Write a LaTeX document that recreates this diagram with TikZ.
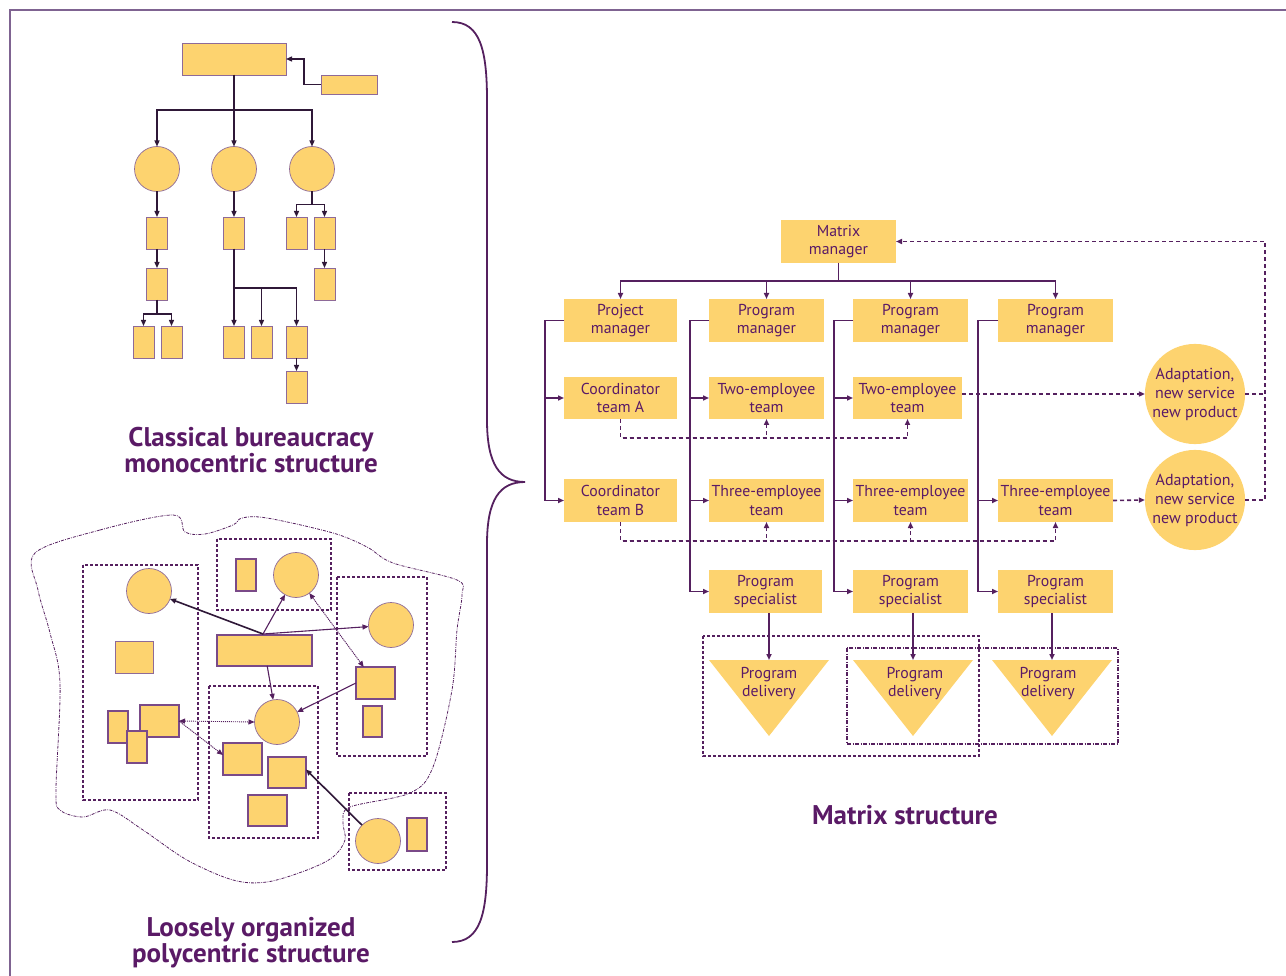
\documentclass[tikz,border=0pt]{standalone}
\usepackage{fontspec}
\setmainfont{PT Sans}
\usetikzlibrary{arrows.meta,calc}
\definecolor{yel}{HTML}{FDD36F}
\definecolor{txt}{HTML}{5A1A66}
\definecolor{mln}{HTML}{55205F}
\definecolor{dk}{HTML}{2F1838}
\definecolor{frm}{HTML}{7F6391}
\definecolor{outl}{HTML}{8E6A98}
\definecolor{pout}{HTML}{7A4A88}
\tikzset{
  bbox/.style={draw=outl, line width=0.7pt, fill=yel, inner sep=0pt, outer sep=0pt},
  bcirc/.style={bbox, circle, minimum size=45pt},
  tip/.style={-{Triangle[length=6pt,width=5pt]}},
  barrow/.style={draw=dk, line width=1.3pt, tip},
  pbox/.style={draw=pout, line width=1.3pt, fill=yel, inner sep=0pt, outer sep=0pt},
  pthin/.style={draw=outl, line width=0.7pt, fill=yel, inner sep=0pt, outer sep=0pt},
  pcirc/.style={pthin, circle, minimum size=45pt},
  pgroup/.style={draw=mln, line width=1.2pt, dash pattern=on 3pt off 2pt},
  pthick/.style={draw=dk, line width=1.6pt, -{Triangle[length=6pt,width=5pt]}},
  pmed/.style={draw=mln, line width=1.1pt, -{Triangle[length=6pt,width=5pt]}},
  pdot/.style={draw=mln, line width=0.9pt, dash pattern=on 1.2pt off 0.8pt},
  mbox/.style={fill=yel, inner sep=0pt, outer sep=0pt, align=center, text=txt,
     font=\fontsize{15.8}{18.5}\selectfont, minimum height=43pt},
  mcirc/.style={fill=yel, circle, inner sep=0pt, outer sep=0pt, minimum size=98pt, align=center, text=txt,
     font=\fontsize{16}{19}\selectfont},
  mline/.style={draw=mln, line width=1.6pt},
  marrow/.style={mline, -{Triangle[length=6pt,width=5pt]}},
  mdash/.style={draw=mln, line width=1.6pt, dash pattern=on 4pt off 3pt},
  mdasharrow/.style={mdash, -{Triangle[length=6pt,width=5pt]}},
  title/.style={align=center, text=txt, font=\bfseries\fontsize{27}{24}\selectfont},
  dtext/.style={align=center, text=txt, font=\fontsize{15.8}{18.5}\selectfont, inner sep=0pt}
}
\begin{document}
\begin{tikzpicture}[x=1pt,y=-1pt]
\useasboundingbox (0,0) rectangle (1286,976);
% frame
\draw[frm, line width=2pt] (10,976) -- (10,10) -- (1286,10);

% ===== Classical bureaucracy =====
\node[bbox, minimum width=104pt, minimum height=32pt] (top) at (234,59) {};
\node[bbox, minimum width=56pt, minimum height=19pt] (side) at (349,84.5) {};
\node[bcirc] (c1) at (157,169) {};
\node[bcirc] (c2) at (234,169) {};
\node[bcirc] (c3) at (312,169) {};
\foreach \n/\x/\y in {r11/157/233, r12/157/284, r13a/143.5/342, r13b/171.5/342,
  r21/234/233, r22a/234/342, r22b/261.5/342, r22c/296.5/342, r23/296.5/387,
  r31a/296.5/233, r31b/324.5/233, r32/324.5/284}
  \node[bbox, minimum width=21pt, minimum height=32pt] (\n) at (\x,\y) {};
\draw[barrow] (side.west) -- ++(-17,0) |- (top.east);
\draw[barrow] (top.south) -- (c2.north);
\draw[barrow] (top.south) -- ++(0,35) -| (c1.north);
\draw[barrow] (top.south) -- ++(0,35) -| (c3.north);
\draw[barrow] (c1.south) -- (r11.north);
\draw[barrow] (r11.south) -- (r12.north);
\draw[barrow] (r12.south) -- ++(0,14) -| (r13a.north);
\draw[barrow] (r12.south) -- ++(0,14) -| (r13b.north);
\draw[barrow] (c2.south) -- (r21.north);
\draw[barrow] (r21.south) -- (r22a.north);
\draw[barrow] (r21.south) -- ++(0,39) -| (r22b.north);
\draw[barrow] (r21.south) -- ++(0,39) -| (r22c.north);
\draw[barrow] (r22c.south) -- (r23.north);
\draw[barrow] (c3.south) -- ++(0,13) -| (r31a.north);
\draw[barrow] (c3.south) -- ++(0,13) -| (r31b.north);
\draw[barrow] (r31b.south) -- (r32.north);
\node[title] (t1) at (251,450) {Classical bureaucracy\\monocentric structure};

% ===== Polycentric =====
\draw[mln, line width=0.8pt, dash pattern=on 3pt off 1.2pt on 0.8pt off 1.2pt]
  plot[smooth cycle, tension=0.55] coordinates {(35,553) (100,530) (173,515) (185,532) (205,534) (233,525)
  (242,518) (267,518) (333,533) (367,547) (393,563) (457,580) (462,595) (457,630) (452,690)
  (433,767) (410,793) (350,807) (343,822) (345,840) (333,857) (307,870) (267,882) (233,880)
  (187,860) (143,830) (110,810) (83,817) (60,810) (56,790) (60,683) (50,633) (38,590)};
\draw[pgroup] (83,565) rectangle (198,800);
\draw[pgroup] (217,539) rectangle (331,610);
\draw[pgroup] (337,577) rectangle (427,756);
\draw[pgroup] (209,686) rectangle (318,838);
\draw[pgroup] (349,793) rectangle (446,870);
\node[pcirc] (pc1) at (149,591) {};
\node[pthin, minimum width=38pt, minimum height=32pt] (pA) at (134,657) {};
\node[pbox, minimum width=20pt, minimum height=32pt] (pS1) at (118,727) {};
\node[pbox, minimum width=39pt, minimum height=32pt] (pS2) at (159.5,721) {};
\node[pbox, minimum width=20pt, minimum height=32pt] (pS3) at (137,747) {};
\node[pbox, minimum width=20pt, minimum height=32pt] (pB1) at (246,575) {};
\node[pcirc] (pc2) at (296,575) {};
\node[pbox, minimum width=95pt, minimum height=31pt] (pmid) at (264.5,650.5) {};
\node[pcirc] (pc3) at (391,625) {};
\node[pbox, minimum width=39pt, minimum height=32pt] (pC1) at (375.5,683) {};
\node[pbox, minimum width=19pt, minimum height=31pt] (pC2) at (372.5,721.5) {};
\node[pcirc] (pc4) at (277,722) {};
\node[pbox, minimum width=39pt, minimum height=32pt] (pD1) at (242.5,759) {};
\node[pbox, minimum width=38pt, minimum height=31pt] (pD2) at (287,772.5) {};
\node[pbox, minimum width=39pt, minimum height=31pt] (pD3) at (267.5,810.5) {};
\node[pcirc] (pc5) at (378,841) {};
\node[pbox, minimum width=20pt, minimum height=33pt] (pE1) at (417,834.5) {};
\coordinate (hub) at (263,634);
\draw[pthick] (hub) -- (pc1);
\draw[pmed] (hub) -- (pc2);
\draw[pmed] (hub) -- (pc3);
\draw[pmed] (pmid) -- (pc4);
\draw[pdot, {Triangle[length=6pt,width=5pt]}-{Triangle[length=6pt,width=5pt]}] (pc2) -- (pC1);
\draw[pmed] (pC1.west) -- (pc4);
\draw[pdot, {Triangle[length=6pt,width=5pt]}-{Triangle[length=6pt,width=5pt]}] (pS2.east) -- (pc4.west);
\draw[pdot, -{Triangle[length=6pt,width=5pt]}] (pS2.east) -- ($(pD1.west)+(0,-4)$);
\draw[pthick] (pc5) -- ($(pD2.east)+(0,-3)$);
\node[title] (t2) at (251,943) {Loosely organized\\polycentric structure};

% ===== Brace =====
\draw[mln, line width=1.8pt] (452,22) .. controls (480,22) and (487,50) .. (487,100) -- (487,420)
  .. controls (487,465) and (500,482) .. (525,482)
  .. controls (500,482) and (487,499) .. (487,544) -- (487,864)
  .. controls (487,914) and (480,942) .. (452,942);

% ===== Matrix =====
\draw[pgroup, line width=1.3pt] (703,636) rectangle (979,756);
\draw[mln, line width=1.3pt, dash pattern=on 4pt off 1.5pt on 1pt off 1.5pt] (847,648) rectangle (1118,744);
\node[mbox, minimum width=115pt] (MM) at (838.5,241.5) {Matrix\\manager};
\node[mbox, minimum width=113pt] (PM) at (620.5,320.5) {Project\\manager};
\node[mbox, minimum width=115pt] (PG1) at (766.5,320.5) {Program\\manager};
\node[mbox, minimum width=115pt] (PG2) at (910.5,320.5) {Program\\manager};
\node[mbox, minimum width=115pt] (PG3) at (1055.5,320.5) {Program\\manager};
\node[mbox, minimum width=113pt, minimum height=42pt] (CTA) at (620.5,398) {Coordinator\\team A};
\node[mbox, minimum width=115pt, minimum height=42pt] (TE1) at (766.5,398) {Two-employee\\team};
\node[mbox, minimum width=109pt, minimum height=42pt] (TE2) at (907.5,398) {Two-employee\\team};
\node[mbox, minimum width=113pt] (CTB) at (620.5,500.5) {Coordinator\\team B};
\node[mbox, minimum width=115pt] (TH1) at (766.5,500.5) {Three-employee\\team};
\node[mbox, minimum width=115pt] (TH2) at (910.5,500.5) {Three-employee\\team};
\node[mbox, minimum width=115pt] (TH3) at (1055.5,500.5) {Three-employee\\team};
\node[mbox, minimum width=113pt] (SP1) at (765.5,591.5) {Program\\specialist};
\node[mbox, minimum width=115pt] (SP2) at (910.5,591.5) {Program\\specialist};
\node[mbox, minimum width=115pt] (SP3) at (1055.5,591.5) {Program\\specialist};
\node[mcirc] (AD1) at (1195,394) {Adaptation,\\new service\\new product};
\node[mcirc] (AD2) at (1195,500) {Adaptation,\\new service\\new product};
% triangles
\fill[yel] (709,660) -- (829,660) -- (769,736) -- cycle;
\fill[yel] (853,660) -- (973,660) -- (913,736) -- cycle;
\fill[yel] (992,660) -- (1112,660) -- (1052,736) -- cycle;
\coordinate (T1) at (769,660);
\coordinate (T2) at (913,660);
\coordinate (T3) at (1052,660);
\node[dtext] (D1) at (769,683.5) {Program\\delivery};
\node[dtext] (D2) at (915,683.5) {Program\\delivery};
\node[dtext] (D3) at (1048,683.5) {Program\\delivery};
% solid connectors
\draw[marrow] (MM.south) -- ++(0,18) -| (PM.north);
\draw[marrow] (MM.south) -- ++(0,18) -| (PG1.north);
\draw[marrow] (MM.south) -- ++(0,18) -| (PG2.north);
\draw[marrow] (MM.south) -- ++(0,18) -| (PG3.north);
\draw[marrow] (PM.west) -- ++(-19,0) |- (CTA.west);
\draw[marrow] (PM.west) -- ++(-19,0) |- (CTB.west);
\draw[marrow] (PG1.west) -- ++(-19,0) |- (TE1.west);
\draw[marrow] (PG1.west) -- ++(-19,0) |- (TH1.west);
\draw[marrow] (PG1.west) -- ++(-19,0) |- (SP1.west);
\draw[marrow] (PG2.west) -- ++(-19,0) |- (TE2.west);
\draw[marrow] (PG2.west) -- ++(-19,0) |- (TH2.west);
\draw[marrow] (PG2.west) -- ++(-19,0) |- (SP2.west);
\draw[marrow] (PG3.west) -- ++(-20,0) |- (TH3.west);
\draw[marrow] (PG3.west) -- ++(-20,0) |- (SP3.west);
\draw[marrow] (SP1.south -| T1) -- (T1);
\draw[marrow] (SP2.south -| T2) -- (T2);
\draw[marrow] (SP3.south -| T3) -- (T3);
% dashed connectors
\draw[mdasharrow] (CTA.south) -- ++(0,19) -| (TE1.south);
\draw[mdasharrow] (CTA.south) -- ++(0,19) -| (TE2.south);
\draw[mdasharrow] (CTB.south) -- ++(0,19) -| (TH1.south);
\draw[mdasharrow] (CTB.south) -- ++(0,19) -| (TH2.south);
\draw[mdasharrow] (CTB.south) -- ++(0,19) -| (TH3.south);
\draw[mdasharrow] (TE2.east |- AD1.west) -- (AD1.west);
\draw[mdasharrow] (TH3.east) -- (AD2.west);
\draw[mdasharrow] (AD2.east) -- ++(20,0) |- (MM.east);
\draw[mdash] (AD1.east) -- ++(20,0);
\node[title] (t3) at (905,815) {Matrix structure};
\end{tikzpicture}
\end{document}
